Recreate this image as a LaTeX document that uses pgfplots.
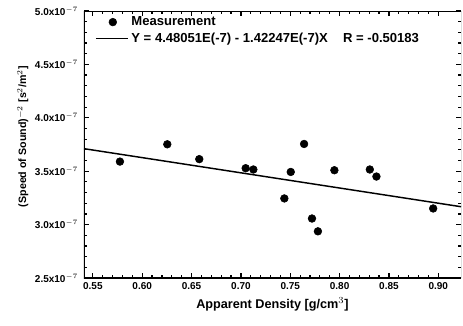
\documentclass[border=0pt]{standalone}
\usepackage{pgfplots}
\pgfplotsset{compat=1.18}
\usepackage{fontspec}
\setmainfont{Liberation Sans}
\pgfplotsset{
  dotlegend/.style={legend image code/.code={\draw[##1] plot coordinates {(0.45cm,0cm)};}},
  linelegend/.style={legend image code/.code={\draw[##1] (0cm,0cm) -- (0.85cm,0cm);}},
}
\begin{document}
\begin{tikzpicture}[x=1pt,y=1pt]
\useasboundingbox (-63pt,-35.25pt) rectangle (284.25pt,208.5pt);
\begin{axis}[
  at={(0,0)}, anchor=origin,
  scale only axis,
  width=282.75pt, height=200.25pt,
  xmin=0.541, xmax=0.923,
  ymin=2.5e-7, ymax=5.0e-7,
  xtick={0.55,0.60,...,0.90},
  ytick={2.5e-7,3.0e-7,3.5e-7,4.0e-7,4.5e-7,5.0e-7},
  yticklabels={2.5x10$^{-7}$,3.0x10$^{-7}$,3.5x10$^{-7}$,4.0x10$^{-7}$,4.5x10$^{-7}$,5.0x10$^{-7}$},
  scaled y ticks=false, scaled x ticks=false,
  minor x tick num=4, minor y tick num=4,
  xticklabel style={/pgf/number format/fixed,/pgf/number format/fixed zerofill,/pgf/number format/precision=2},
  /pgf/number format/assume math mode=true,
  tick label style={font=\bfseries\fontsize{7.5}{8}\selectfont},
  yticklabel style={xshift=-1pt},
  xlabel style={font=\bfseries\fontsize{9.5}{11}\selectfont, yshift=1pt},
  ylabel style={font=\bfseries\fontsize{8}{10}\selectfont, yshift=-2pt, xshift=6pt},
  xlabel={Apparent Density [g/cm$^{3}$]},
  ylabel={(Speed of Sound)$^{-2}$ [s$^{2}$/m$^{2}$]},
  major tick length=3.5pt, minor tick length=2pt,
  tick style={black, line width=0.9pt},
  axis line style={draw=none},
  legend style={draw=none, fill=none, at={(rel axis cs:0.025,0.995)}, anchor=north west,
    font=\bfseries\fontsize{9.8}{11}\selectfont, row sep=0pt, inner sep=1pt},
  legend cell align=left,
  clip=true,
]
\addplot[only marks, mark=*, mark size=2.9pt, black, dotlegend]
  coordinates {
  (0.5774,3.590e-7)
  (0.6254,3.752e-7)
  (0.6578,3.613e-7)
  (0.7048,3.528e-7)
  (0.7126,3.516e-7)
  (0.7440,3.245e-7)
  (0.7505,3.493e-7)
  (0.7640,3.755e-7)
  (0.7720,3.057e-7)
  (0.7780,2.937e-7)
  (0.7947,3.509e-7)
  (0.8306,3.516e-7)
  (0.8373,3.450e-7)
  (0.8948,3.151e-7)
  };
\addlegendentry{Measurement}
\addplot[black, line width=1.1pt, linelegend]
  coordinates {(0.541,3.7110e-7) (0.923,3.1676e-7)};
\addlegendentry{Y = 4.48051E(-7) - 1.42247E(-7)X \hspace{6pt} R = -0.50183}
\draw[black, line width=1.5pt] (rel axis cs:1,1) -- (rel axis cs:0,1) -- (rel axis cs:0,0) -- (rel axis cs:1,0);
\draw[black, line width=0.3pt] (rel axis cs:1,0) -- (rel axis cs:1,1);
\end{axis}
\end{tikzpicture}
\end{document}
